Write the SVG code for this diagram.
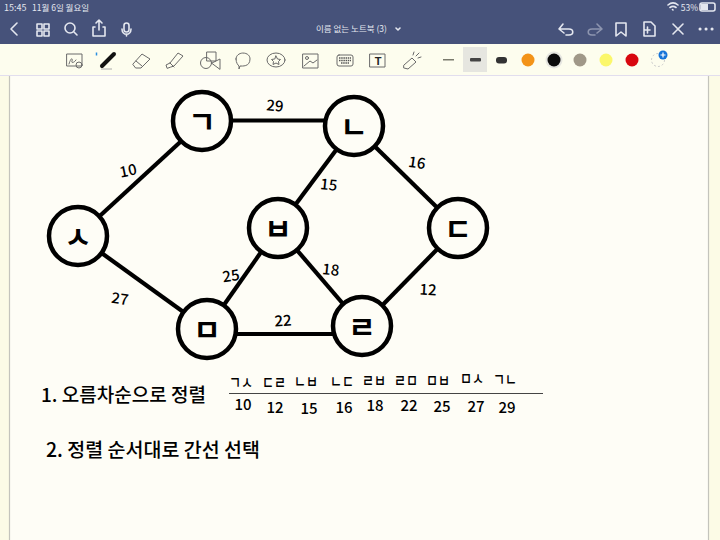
<svg xmlns="http://www.w3.org/2000/svg" width="720" height="540" viewBox="0 0 720 540">
<style>
.ui{font-family:"Noto Sans CJK KR","Liberation Sans",sans-serif;fill:#e4e7ef}
.hw{font-family:"Noto Sans CJK KR","Noto Sans",sans-serif;fill:#000;font-weight:500}
.num{font-size:15px;text-anchor:middle}
.pair{font-size:17px;text-anchor:middle}
.glyph{font-size:30px;font-weight:700;text-anchor:middle}
.edge{stroke:#000;stroke-width:4.2;fill:none}
.node{fill:#fefdf6;stroke:#000;stroke-width:4.5}
.ic{fill:none;stroke:#e4e7ef;stroke-width:1.6;stroke-linecap:round;stroke-linejoin:round}
.tool{fill:none;stroke:#6a6a6a;stroke-width:1;stroke-linejoin:round;stroke-linecap:round}
</style>
<rect width="720" height="540" fill="#fcfbe6"/>
<g id="chrome">
<rect x="10" y="76" width="698" height="464" fill="#fefdf6"/>
<path d="M9.500 76V540M708.500 76V540" stroke="#c4c4bc" stroke-width="1.200"/>
<path d="M0 75.500H720" stroke="#e2deee" stroke-width="1"/>
<rect width="720" height="44" fill="#46527a"/>
<rect y="44" width="720" height="31" fill="#fdfdee"/>
<text class="ui" x="4" y="11" font-size="9">15:45</text>
<text class="ui" x="32" y="11" font-size="8.500">11월 6일 월요일</text>
<text class="ui" x="698" y="10.500" font-size="8.500" text-anchor="end">53%</text>
<text class="ui" x="316" y="32" font-size="8.500">이름 없는 노트북 (3)</text>
<path class="ic" d="M396 28l2 2 2-2" stroke-width="1"/>
<path class="ic" d="M17 23l-6 6 6 6M37 24h5v5h-5zM44 24h5v5h-5zM37 31h5v5h-5zM44 31h5v5h-5z"/>
<circle class="ic" cx="70" cy="28" r="5"/><path class="ic" d="M74 32l3 3M95 27h-2v9h12v-9h-2M99 30v-10M96 23l3-3 3 3"/>
<rect class="ic" x="124" y="23" width="5" height="9" rx="2.500"/><path class="ic" d="M122 29c0 7 9 7 9 0M126.500 34v2"/>
<path class="ic" d="M563 24l-4 5 5 4M559 29h10c5 0 5 6 0 6h-3"/>
<path class="ic" d="M597 24l5 5-5 4M602 29h-10c-5 0-5 6 0 6h3" opacity=".45"/>
<path class="ic" d="M616 23h10v13l-5-4-5 4zM644 22h7l4 4v10h-11zM650 30h-5M647.500 27v6M673 24l10 10M683 24l-10 10"/>
<path d="M700 29h.1M706 29h.1M712 29h.1" stroke="#e4e7ef" stroke-width="3" stroke-linecap="round"/>
<path d="M668 5c3-2.500 7-2.500 10 0M670 7.500c2-1.500 4-1.500 6 0M672.500 9.500l.5.500" class="ic" stroke-width="1.300"/>
<rect class="ic" x="700" y="3" width="15" height="8" rx="2" stroke-width="1"/>
<rect x="701" y="4" width="7" height="6" fill="#e4e7ef"/>
<path d="M96.500 52.500v3" stroke="#2a8fe0" stroke-width="1.500"/>
<g id="tools">
<rect class="tool" x="67" y="54" width="15" height="12"/>
<path class="tool" d="M69 64c2-7 4-6 3-3s3 1 4-1"/><circle class="tool" cx="79" cy="65" r="3"/>
<path d="M102 66l12-12" stroke="#111" stroke-width="4" stroke-linecap="round"/><path d="M101 69h11" stroke="#aaa" stroke-width="1"/>
<path class="tool" d="M133 64l9-10 8 5-9 9h-5zM136 61l6 5"/>
<path class="tool" d="M167 68l-1-3 4-2 8-10 5 3-9 10-3 1zM170 63l4 4"/>
<rect class="tool" x="207" y="52" width="9" height="9"/><circle class="tool" cx="206" cy="63" r="5.500"/><path class="tool" d="M212 63l8-4v10z"/>
<path class="tool" d="M236 59c0-8 14-8 14 0s-8 7-10 7l-1 3 0-3c-1-1-3-3-3-7z"/>
<ellipse class="tool" cx="276" cy="60" rx="9" ry="7"/><path class="tool" d="M276 56l1.500 3 3 .5-2 2 .5 3-3-1.500-3 1.500.5-3-2-2 3-.5z"/>
<rect class="tool" x="303" y="54" width="15" height="14"/><path class="tool" d="M304 66l6-5 3 2 4-3"/><circle class="tool" cx="307" cy="58" r="1.500"/>
<rect class="tool" x="337" y="55" width="16" height="11" rx="2"/><path d="M339 58h12M339 60.500h12M341 63h8" stroke="#555" stroke-width="1.300" stroke-dasharray="1.500 .7"/>
<rect class="tool" x="370" y="54" width="15" height="13"/>
<text x="378" y="65" font-size="11" font-weight="700" text-anchor="middle" font-family="Liberation Sans,sans-serif" fill="#222">T</text>
<path class="tool" d="M404 65l8-7 4 4-8 7-4-1zM416 56l3-3M413 55l1-3M418 58l3-1"/>
</g>
<rect x="443" y="59" width="11" height="1.500" fill="#7a7a6c"/>
<rect x="463" y="47" width="24" height="25" fill="#e6e6e0"/>
<rect x="470" y="58" width="11" height="3.500" rx="1" fill="#444"/>
<rect x="496" y="57" width="11" height="6.500" rx="3" fill="#333"/>
<circle cx="528" cy="60" r="6.500" fill="#f39318"/>
<circle cx="554" cy="60" r="8.500" fill="#e6e6e0"/>
<circle cx="554" cy="60" r="6.500" fill="#0a0a0a"/>
<circle cx="580" cy="60" r="6.500" fill="#a09888"/>
<circle cx="606" cy="60" r="6.500" fill="#fbf76b"/>
<circle cx="632" cy="60" r="6.500" fill="#d8070f"/>
<circle cx="658" cy="60" r="6.500" fill="none" stroke="#ccc" stroke-dasharray="2 2"/>
<circle cx="663" cy="55" r="4.500" fill="#1573d8"/>
<path d="M660.500 55h5M663 52.500v5" stroke="#fff" stroke-width="1.200"/>
</g>
<g id="connectors">
<line class="edge" x1="78" y1="236" x2="202" y2="122"/>
<line class="edge" x1="78" y1="236" x2="207" y2="329"/>
<line class="edge" x1="202" y1="120.500" x2="354" y2="120.500"/>
<line class="edge" x1="354" y1="126" x2="278" y2="228"/>
<line class="edge" x1="354" y1="126" x2="458" y2="228"/>
<line class="edge" x1="278" y1="228" x2="207" y2="329"/>
<line class="edge" x1="278" y1="228" x2="362" y2="326"/>
<line class="edge" x1="458" y1="228" x2="362" y2="326"/>
<line class="edge" x1="207" y1="334" x2="362" y2="334"/>
</g>
<g id="edge-labels" class="hw num">
<text x="128" y="176" transform="rotate(-12 128 170)">10</text>
<text x="120" y="304" transform="rotate(8 120 298)">27</text>
<text x="275" y="111" transform="rotate(5 275 105)">29</text>
<text x="329" y="190" transform="rotate(6 329 184)">15</text>
<text x="417" y="168" transform="rotate(8 417 162)">16</text>
<text x="231" y="281" transform="rotate(-8 231 275)">25</text>
<text x="331" y="275" transform="rotate(6 331 269)">18</text>
<text x="283" y="326" transform="rotate(-3 283 320)">22</text>
<text x="428" y="295" transform="rotate(3 428 289)">12</text>
</g>
<g id="node-g"><circle class="node" cx="202" cy="121" r="29"/><text class="hw glyph" x="202" y="133">ㄱ</text></g>
<g id="node-n"><circle class="node" cx="354" cy="126" r="29"/><text class="hw glyph" x="354" y="138">ㄴ</text></g>
<g id="node-d"><circle class="node" cx="458" cy="228" r="29"/><text class="hw glyph" x="458" y="240">ㄷ</text></g>
<g id="node-r"><circle class="node" cx="362" cy="326" r="29"/><text class="hw glyph" x="362" y="338">ㄹ</text></g>
<g id="node-m"><circle class="node" cx="207" cy="329" r="29"/><text class="hw glyph" x="207" y="341">ㅁ</text></g>
<g id="node-b"><circle class="node" cx="278" cy="228" r="29"/><text class="hw glyph" x="278" y="240">ㅂ</text></g>
<g id="node-s"><circle class="node" cx="78" cy="236" r="29"/><text class="hw glyph" x="78" y="248">ㅅ</text></g>
<g id="notes" class="hw">
<text x="41" y="402" font-size="19">1. 오름차순으로 정렬</text>
<text x="46" y="457" font-size="19.500">2. 정렬 순서대로 간선 선택</text>
<line x1="229" y1="393.500" x2="543" y2="393.500" stroke="#444" stroke-width="1.200"/>
<g class="pair">
<text x="241" y="389" textLength="24" lengthAdjust="spacingAndGlyphs">ㄱㅅ</text>
<text x="274" y="389" textLength="24" lengthAdjust="spacingAndGlyphs">ㄷㄹ</text>
<text x="306" y="388" textLength="24" lengthAdjust="spacingAndGlyphs">ㄴㅂ</text>
<text x="342" y="388" textLength="24" lengthAdjust="spacingAndGlyphs">ㄴㄷ</text>
<text x="374" y="387" textLength="24" lengthAdjust="spacingAndGlyphs">ㄹㅂ</text>
<text x="406" y="387" textLength="24" lengthAdjust="spacingAndGlyphs">ㄹㅁ</text>
<text x="438" y="387" textLength="24" lengthAdjust="spacingAndGlyphs">ㅁㅂ</text>
<text x="472" y="385" textLength="24" lengthAdjust="spacingAndGlyphs">ㅁㅅ</text>
<text x="505" y="386" textLength="24" lengthAdjust="spacingAndGlyphs">ㄱㄴ</text>
</g>
<g class="num">
<text x="243" y="410">10</text>
<text x="275" y="413">12</text>
<text x="309" y="414">15</text>
<text x="344" y="413">16</text>
<text x="375" y="411">18</text>
<text x="409" y="411">22</text>
<text x="442" y="412">25</text>
<text x="476" y="412">27</text>
<text x="507" y="413">29</text>
</g>
</g>
</svg>
